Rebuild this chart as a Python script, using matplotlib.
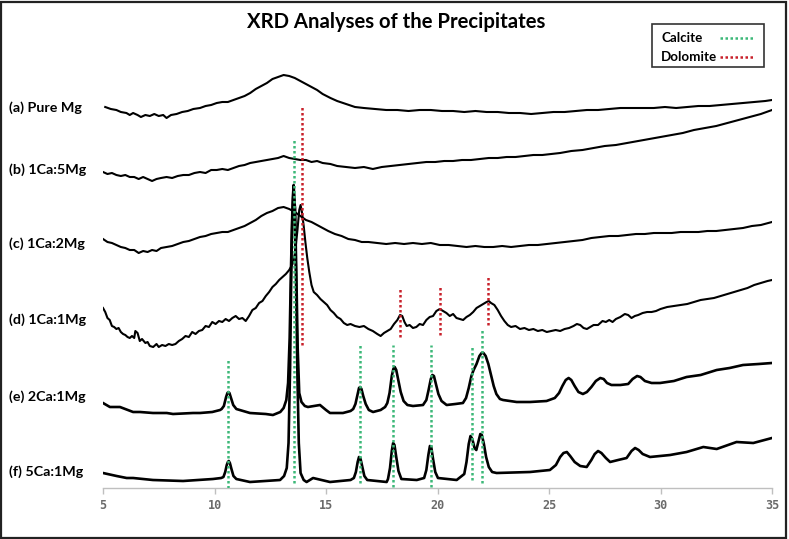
import matplotlib
matplotlib.use('AGG')
import matplotlib.pyplot as plt
from matplotlib.patches import Rectangle
from matplotlib.lines import Line2D

# 2-theta (deg) and intensity (a.u., curves stacked with offsets)
a_x = [5.10, 5.35, 5.60, 5.80, 6.05, 6.20, 6.35, 6.55, 6.70, 6.90, 7.10, 7.30, 7.50, 7.70, 7.85,
       8.05, 8.30, 8.55, 8.80, 9.05, 9.35, 9.60, 9.85, 10.10, 10.35, 10.60, 10.85, 11.10, 11.35,
       11.60, 11.85, 12.10, 12.35, 12.60, 12.85, 13.10, 13.35, 13.60, 13.85, 14.10, 14.35, 14.60,
       14.85, 15.20, 15.50, 15.90, 16.30, 16.70, 17.20, 17.70, 18.20, 18.70, 19.20, 19.70, 20.20,
       20.70, 21.20, 21.70, 22.20, 22.70, 23.20, 23.70, 24.20, 24.70, 25.20, 25.70, 26.20, 26.70,
       27.20, 27.70, 28.20, 28.70, 29.20, 29.70, 30.20, 30.70, 31.20, 31.70, 32.20, 32.70, 33.20,
       33.70, 34.20, 34.70, 35.00]
a_y = [381, 379, 378, 376, 375, 373, 375, 373, 371, 373, 372, 374, 372, 373, 370,
       373, 374, 376, 377, 379, 380, 382, 383, 385, 386, 386, 388, 390, 392,
       395, 399, 402, 405, 409, 411, 413, 412, 410, 407, 404, 401, 398,
       394, 390, 387, 384, 381, 380, 379, 378, 378, 377, 378, 378, 377,
       377, 376, 377, 376, 376, 375, 375, 374, 375, 376, 376, 377, 378,
       378, 379, 380, 380, 380, 380, 381, 380, 381, 382, 382, 383, 384,
       385, 386, 387, 388]

b_x = [5.00, 5.20, 5.40, 5.60, 5.80, 6.00, 6.20, 6.40, 6.60, 6.80, 7.00, 7.20, 7.40, 7.60, 7.85,
       8.10, 8.35, 8.60, 8.85, 9.10, 9.35, 9.60, 9.85, 10.10, 10.35, 10.60, 10.85, 11.10, 11.35,
       11.60, 11.85, 12.10, 12.35, 12.60, 12.85, 13.10, 13.35, 13.60, 13.85, 14.10, 14.35, 14.60,
       14.85, 15.20, 15.50, 15.90, 16.30, 16.70, 17.10, 17.50, 17.90, 18.30, 18.70, 19.10, 19.50,
       19.90, 20.30, 20.70, 21.10, 21.50, 21.90, 22.30, 22.70, 23.10, 23.50, 23.90, 24.30, 24.70,
       25.10, 25.50, 26.00, 26.50, 27.00, 27.50, 28.00, 28.50, 29.00, 29.50, 30.00, 30.50, 31.00,
       31.50, 32.00, 32.50, 33.00, 33.50, 34.00, 34.50, 35.00]
b_y = [316, 314, 315, 313, 312, 313, 311, 311, 309, 311, 309, 307, 309, 310, 311,
       310, 312, 313, 313, 315, 316, 315, 318, 318, 319, 318, 320, 322, 323,
       325, 326, 327, 328, 329, 330, 332, 330, 329, 328, 328, 326, 327,
       325, 324, 322, 321, 320, 321, 319, 321, 322, 323, 324, 325, 326,
       326, 327, 327, 328, 328, 329, 330, 330, 331, 331, 332, 333, 333,
       334, 335, 337, 338, 340, 342, 343, 345, 347, 349, 351, 353, 355,
       358, 360, 362, 365, 368, 371, 374, 378]

c_x = [5.00, 5.20, 5.40, 5.60, 5.80, 6.00, 6.20, 6.40, 6.60, 6.80, 7.00, 7.20, 7.40, 7.60, 7.85,
       8.10, 8.35, 8.60, 8.85, 9.10, 9.35, 9.60, 9.85, 10.10, 10.35, 10.60, 10.85, 11.10, 11.35,
       11.60, 11.85, 12.10, 12.35, 12.60, 12.85, 13.10, 13.35, 13.60, 13.85, 14.10, 14.35, 14.60,
       14.85, 15.10, 15.40, 15.70, 16.00, 16.30, 16.60, 16.90, 17.30, 17.70, 18.10, 18.50, 18.90,
       19.30, 19.70, 20.10, 20.50, 20.90, 21.30, 21.70, 22.10, 22.50, 22.90, 23.30, 23.70, 24.10,
       24.50, 24.90, 25.30, 25.70, 26.10, 26.50, 26.90, 27.30, 27.70, 28.10, 28.50, 28.90, 29.30,
       29.70, 30.10, 30.50, 30.90, 31.30, 31.70, 32.10, 32.50, 32.90, 33.30, 33.70, 34.10, 34.50,
       35.00]
c_y = [249, 246, 245, 243, 241, 240, 238, 238, 235, 237, 236, 238, 237, 240, 241,
       242, 244, 246, 247, 249, 251, 252, 254, 255, 256, 256, 258, 260, 262,
       265, 268, 272, 275, 277, 280, 281, 279, 276, 272, 268, 266, 263,
       260, 257, 254, 252, 249, 248, 246, 246, 245, 244, 245, 244, 245,
       244, 245, 243, 243, 242, 241, 242, 241, 241, 242, 241, 242, 243,
       243, 244, 245, 246, 247, 248, 250, 251, 252, 252, 253, 254, 254,
       255, 255, 255, 256, 256, 256, 257, 257, 258, 259, 260, 262, 263,
       266]

d_x = [5.00, 5.10, 5.20, 5.30, 5.40, 5.50, 5.60, 5.70, 5.80, 5.90, 6.00, 6.10, 6.20, 6.30, 6.40,
       6.45, 6.55, 6.65, 6.75, 6.90, 7.00, 7.10, 7.25, 7.40, 7.50, 7.65, 7.80, 7.95, 8.10, 8.25,
       8.40, 8.55, 8.70, 8.85, 9.00, 9.15, 9.30, 9.45, 9.60, 9.75, 9.90, 10.05, 10.20, 10.35,
       10.50, 10.65, 10.80, 10.95, 11.10, 11.25, 11.40, 11.55, 11.70, 11.85, 12.00, 12.15, 12.30,
       12.45, 12.60, 12.75, 12.90, 13.05, 13.20, 13.35, 13.50, 13.62, 13.72, 13.80, 13.86, 13.92,
       14.00, 14.08, 14.16, 14.25, 14.35, 14.45, 14.60, 14.75, 14.90, 15.05, 15.20, 15.35, 15.50,
       15.65, 15.80, 15.95, 16.10, 16.30, 16.50, 16.70, 16.90, 17.10, 17.30, 17.45, 17.60, 17.75,
       17.90, 18.05, 18.20, 18.32, 18.42, 18.52, 18.62, 18.75, 18.90, 19.05, 19.20, 19.35, 19.50,
       19.65, 19.80, 19.95, 20.10, 20.25, 20.40, 20.55, 20.70, 20.85, 21.00, 21.15, 21.30, 21.45,
       21.60, 21.75, 21.90, 22.05, 22.20, 22.30, 22.40, 22.55, 22.70, 22.85, 23.00, 23.15, 23.30,
       23.50, 23.70, 23.90, 24.10, 24.30, 24.50, 24.70, 24.90, 25.10, 25.30, 25.50, 25.70, 25.90,
       26.10, 26.25, 26.40, 26.55, 26.70, 26.85, 27.00, 27.20, 27.40, 27.55, 27.70, 27.85, 28.00,
       28.20, 28.40, 28.55, 28.70, 28.85, 29.00, 29.20, 29.40, 29.60, 29.80, 30.00, 30.30, 30.60,
       30.90, 31.20, 31.50, 31.80, 32.10, 32.40, 32.70, 33.00, 33.30, 33.60, 33.90, 34.20, 34.50,
       34.80, 35.00]
d_y = [180, 176, 170, 168, 162, 161, 159, 160, 156, 154, 153, 151, 150, 152, 150,
       157, 155, 147, 149, 145, 146, 142, 141, 144, 141, 143, 142, 144, 143, 144,
       147, 149, 152, 151, 156, 154, 157, 158, 162, 161, 166, 164, 167, 166,
       169, 167, 170, 172, 169, 170, 167, 172, 178, 180, 185, 187, 192,
       196, 201, 204, 208, 211, 214, 218, 224, 236, 258, 278, 283, 276,
       262, 245, 230, 216, 203, 196, 193, 189, 186, 183, 178, 175, 171,
       169, 165, 163, 164, 162, 161, 162, 159, 157, 154, 152, 155, 157,
       159, 164, 168, 173, 172, 166, 162, 163, 160, 161, 164, 163, 168,
       171, 172, 177, 179, 177, 175, 172, 174, 170, 169, 168, 171, 173,
       176, 180, 182, 184, 186, 187, 185, 183, 178, 172, 167, 163, 161,
       162, 159, 160, 158, 159, 157, 158, 156, 157, 158, 157, 159, 160,
       162, 164, 163, 160, 159, 161, 163, 163, 167, 166, 168, 166, 169,
       171, 174, 173, 170, 172, 173, 175, 176, 176, 177, 179, 181, 182,
       183, 184, 186, 188, 189, 190, 192, 194, 196, 198, 200, 203, 205,
       207, 208]

e_x = [5.00, 5.31, 5.76, 6.35, 6.66, 7.24, 7.86, 8.14, 9.04, 9.35, 9.90, 10.25,
       10.32, 10.42, 10.52, 10.58, 10.62, 10.67, 10.74, 10.84, 10.98,
       11.59, 12.30, 12.62, 12.95,
       13.10, 13.22, 13.30, 13.37, 13.43, 13.49, 13.55, 13.61, 13.67, 13.73, 13.80, 13.90, 14.05,
       14.19, 14.45, 14.73, 15.00, 15.18, 15.76, 16.10,
       16.22, 16.32, 16.42, 16.48, 16.53, 16.59, 16.67, 16.78, 16.92, 17.11, 17.45, 17.65,
       17.75, 17.85, 17.95, 18.02, 18.08, 18.15, 18.24, 18.35, 18.48, 18.65, 18.90,
       19.35, 19.50, 19.60, 19.70, 19.77, 19.84, 19.93, 20.04, 20.18, 20.41, 20.80,
       21.14, 21.28, 21.40, 21.52, 21.62, 21.75, 21.88, 21.98, 22.06, 22.16, 22.28, 22.40, 22.52,
       22.64, 22.80, 22.94, 23.55, 24.15, 24.89, 25.26,
       25.45, 25.60, 25.75, 25.88, 26.00, 26.15, 26.32, 26.52, 26.70, 26.90, 27.10, 27.30, 27.45,
       27.60, 27.80, 28.20, 28.55, 28.75, 28.95, 29.10, 29.30, 29.60, 29.98, 30.60, 31.17, 31.80,
       32.52, 33.10, 33.70, 34.40, 35.00]
e_y = [85, 81, 81, 76, 76, 75, 75, 74, 75, 75, 76, 78,
       79, 82, 91, 95, 96, 95, 90, 83, 79,
       75, 74, 73, 76,
       80, 88, 105, 150, 220, 275, 296, 280, 215, 140, 95, 86, 82,
       81, 82, 83, 78, 75, 75, 77,
       79, 84, 94, 100, 101, 99, 92, 84, 78, 76, 78, 81,
       85, 95, 112, 119, 121, 118, 108, 96, 87, 83, 82,
       83, 88, 98, 109, 113, 112, 104, 94, 87, 83, 84,
       85, 90, 100, 112, 118, 124, 132, 135, 135, 132, 124, 113, 102,
       94, 89, 88, 86, 86, 87, 90,
       95, 102, 108, 110, 108, 102, 96, 94, 96, 101, 107, 110, 109,
       105, 103, 103, 104, 109, 112, 111, 107, 105, 105, 107, 111, 113,
       118, 120, 123, 124, 125]

f_x = [5.00, 5.61, 6.06, 6.35, 7.24, 8.59, 9.93, 10.30,
       10.40, 10.48, 10.55, 10.60, 10.64, 10.69, 10.76, 10.85, 10.98,
       11.59, 12.94, 13.12, 13.24, 13.32, 13.39, 13.45, 13.51, 13.55, 13.60, 13.66, 13.72, 13.78,
       13.86, 14.00, 14.13, 14.42, 15.18, 16.10,
       16.25, 16.34, 16.42, 16.48, 16.54, 16.62, 16.72, 16.85, 17.72,
       17.78, 17.87, 17.95, 18.01, 18.07, 18.15, 18.25, 18.38, 19.07,
       19.40, 19.50, 19.59, 19.66, 19.72, 19.80, 19.90, 20.02, 20.86,
       21.20, 21.30, 21.40, 21.48, 21.56, 21.66, 21.74, 21.82, 21.92, 21.99, 22.08, 22.18, 22.30,
       22.45, 22.65, 24.15, 25.04, 25.31, 25.50, 25.65, 25.80, 25.95, 26.15, 26.40, 26.69, 26.90,
       27.05, 27.20, 27.35, 27.55, 27.74, 28.10, 28.48, 28.70, 28.86, 29.02, 29.20, 29.53, 30.43,
       31.17, 31.92, 32.52, 33.41, 34.16, 35.00]
f_y = [15, 12, 10, 10, 8, 7, 9, 10,
       11, 16, 23, 26, 27, 25, 19, 12, 9,
       6, 8, 12, 20, 45, 120, 230, 290, 303, 280, 200, 110, 45,
       15, 8, 6, 10, 6, 8,
       10, 16, 26, 31, 30, 22, 12, 8, 6,
       9, 20, 37, 45, 43, 31, 17, 9, 8,
       10, 18, 33, 42, 41, 29, 16, 10, 8,
       14, 26, 44, 52, 49, 40, 38, 45, 54, 53, 44, 31, 21,
       16, 15, 16, 18, 23, 31, 35, 36, 32, 26, 22, 21, 28,
       34, 37, 35, 30, 26, 28, 30, 37, 40, 38, 34, 31, 33,
       36, 41, 39, 46, 45, 50]

sample_labels = ['(a) Pure Mg', '(b) 1Ca:5Mg', '(c) 1Ca:2Mg', '(d) 1Ca:1Mg', '(e) 2Ca:1Mg', '(f) 5Ca:1Mg']
label_heights = [380, 318, 244, 168, 91, 16]

# reference peak positions and the span of each marker line
calcite_pos = [10.62, 13.58, 16.52, 18.02, 19.70, 21.53, 22.01]
calcite_top = [128, 348, 143, 143, 143, 143, 158]
calcite_bot = [0, 5, 5, 1, 1, 8, 5]
dolomite_pos = [13.91, 18.32, 20.11, 22.28]
dolomite_top = [383, 200, 203, 211]
dolomite_bot = [143, 151, 153, 163]

x_ticks = [5, 10, 15, 20, 25, 30, 35]
legend_names = ['Calcite', 'Dolomite']

green = '#3cb878'
red = '#c8202a'
dots = (0, (1, 1))

plt.rcParams['font.family'] = ['Lato', 'DejaVu Sans']
fig = plt.figure(figsize=(7.89, 5.39), dpi=100)
ax = fig.add_axes([103 / 789, 1 - 488 / 539, 669 / 789, 448 / 539])

for xs, ys in [(a_x, a_y), (b_x, b_y), (c_x, c_y), (d_x, d_y)]:
    ax.plot(xs, ys, color='black', lw=1.5, solid_joinstyle='round', zorder=2)
for xs, ys in [(e_x, e_y), (f_x, f_y)]:
    ax.plot(xs, ys, color='black', lw=1.9, solid_joinstyle='round', zorder=2)

ax.vlines(calcite_pos, calcite_bot, calcite_top, colors=green, lw=1.8, linestyles=dots, zorder=3)
ax.vlines(dolomite_pos, dolomite_bot, dolomite_top, colors=red, lw=1.8, linestyles=dots, zorder=3)

ax.set_xlim(5, 35)
ax.set_ylim(0, 448)
ax.set_xticks(x_ticks)
ax.set_xticklabels([str(t) for t in x_ticks], family='DejaVu Sans Mono', fontsize=8.5,
                   fontweight='bold', color='#6a6a6a')
ax.tick_params(axis='x', length=4, width=1, color='#bfbfbf', pad=4)
ax.set_yticks([])
for side in ['top', 'right', 'left']:
    ax.spines[side].set_visible(False)
ax.spines['bottom'].set_color('#bfbfbf')
ax.spines['bottom'].set_linewidth(1)
ax.patch.set_alpha(0)

for lab, h in zip(sample_labels, label_heights):
    y_fig = (1 - 488 / 539) + h / 539
    fig.text(9 / 789, y_fig, lab, ha='left', va='center', fontsize=10.3, fontweight='bold')

fig.text(0.502, 1 - 22 / 539, 'XRD Analyses of the Precipitates', ha='center', va='center',
         fontsize=14.6, fontweight='bold')

# key box: names on the left, dotted sample on the right
fig.patches.append(Rectangle((652 / 789, 1 - 67 / 539), 112 / 789, 43 / 539,
                             transform=fig.transFigure, fill=False, edgecolor='#333333', lw=1.2))
for name, col, yy in zip(legend_names, [green, red], [38, 57]):
    fig.text(661 / 789, 1 - yy / 539, name, ha='left', va='center', fontsize=9.6, fontweight='bold')
    fig.lines.append(Line2D([720 / 789, 755 / 789], [1 - yy / 539, 1 - yy / 539],
                            transform=fig.transFigure, color=col, lw=1.8, ls=dots))

# frame round the whole picture
fig.patches.append(Rectangle((1 / 789, 1 / 539), 785 / 789, 536 / 539, transform=fig.transFigure,
                             fill=False, edgecolor='#222222', lw=1.6))

plt.savefig('out.png', dpi=100)
